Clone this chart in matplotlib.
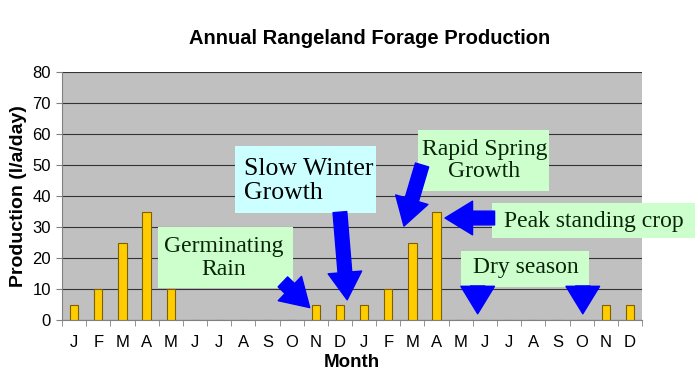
import matplotlib
matplotlib.use("Agg")
import matplotlib.pyplot as plt
import numpy as np

months = ["J", "F", "M", "A", "M", "J", "J", "A", "S", "O", "N", "D",
          "J", "F", "M", "A", "M", "J", "J", "A", "S", "O", "N", "D"]
production = [5, 10, 25, 35, 10, 0, 0, 0, 0, 0, 5, 5,
              5, 10, 25, 35, 0, 0, 0, 0, 0, 0, 5, 5]
y_ticks = [0, 10, 20, 30, 40, 50, 60, 70, 80]

plt.rcParams['font.family'] = ['Liberation Sans', 'DejaVu Sans']

fig = plt.figure(figsize=(7, 3.88), dpi=100)
ax = fig.add_axes([62/700, 1-320/388, 580/700, 248/388])
ax.set_facecolor('#C0C0C0')
x = np.arange(len(months))
ax.bar(x, production, width=0.34, color='#FFCC00', edgecolor='#7F6000', linewidth=0.8, zorder=3)
ax.set_xlim(-0.5, len(months) - 0.5)
ax.set_ylim(0, 80)
ax.set_yticks(y_ticks)
ax.set_yticklabels([str(v) for v in y_ticks], fontsize=12)
ax.yaxis.grid(True, color='#333333', linewidth=0.8, zorder=1)
ax.set_xticks(x)
ax.set_xticklabels(months, fontsize=12)
ax.tick_params(axis='x', which='major', length=0, pad=11)
ax.set_xticks(np.arange(-0.5, len(months), 1), minor=True)
ax.tick_params(axis='x', which='minor', length=4, color='#808080')
ax.tick_params(axis='y', length=4, color='#808080', pad=4)
for s in ['top', 'right']:
    ax.spines[s].set_visible(False)
ax.spines['left'].set_color('#808080')
ax.spines['bottom'].set_color('#808080')
ax.set_xlabel('Month', fontsize=13.5, fontweight='bold', labelpad=3)
ax.set_ylabel('Production (l/a/day)', fontsize=14, fontweight='bold', labelpad=4)

fig.text(370/700, 1-38/388, 'Annual Rangeland Forage Production', ha='center', va='center',
         fontsize=14.5, fontweight='bold')

serif = ['Liberation Serif', 'DejaVu Serif']
green = '#CCFFCC'
cyan = '#CCFFFF'
dark = '#0A240A'

def arrow(x0, y0, x1, y1):
    ax.annotate('', xy=(x1, y1), xytext=(x0, y0), xycoords='data', textcoords='data',
                arrowprops=dict(arrowstyle='simple,head_length=0.9,head_width=1.1,tail_width=0.45',
                                fc='#0000FF', ec='#0000FF', mutation_scale=22, shrinkA=0, shrinkB=0),
                zorder=6, annotation_clip=False)

def box(x0, x1, y0, y1, color):
    ax.add_patch(plt.Rectangle((x0, y0), x1 - x0, y1 - y0, facecolor=color, edgecolor='none',
                               zorder=5, clip_on=False))

# Germinating Rain
box(3.47, 9.06, 10.3, 30.0, green)
ax.text(6.18, 20.0, 'Germinating\nRain', ha='center', va='center', fontsize=17,
        family=serif, color=dark, zorder=7, linespacing=1.1)
arrow(8.64, 12.3, 9.75, 4.0)

# Slow Winter Growth
box(6.66, 12.5, 34.5, 56.1, cyan)
ax.text(7.05, 44.8, 'Slow Winter\nGrowth', ha='left', va='center', fontsize=18.5,
        family=serif, color='#000000', zorder=7, linespacing=1.1)
arrow(11.0, 34.8, 11.3, 6.5)

# Rapid Spring Growth
box(14.23, 19.65, 41.6, 61.3, green)
ax.text(16.98, 51.5, 'Rapid Spring\nGrowth', ha='center', va='center', fontsize=17,
        family=serif, color=dark, zorder=7, linespacing=1.05)
arrow(14.4, 50.0, 13.65, 30.3)

# Peak standing crop
box(17.3, 25.7, 26.5, 37.7, green)
ax.text(21.5, 31.8, 'Peak standing crop', ha='center', va='center', fontsize=17,
        family=serif, color=dark, zorder=7, clip_on=False)
arrow(17.4, 32.9, 15.35, 32.9)

# Dry season
box(16.0, 21.3, 10.6, 22.3, green)
ax.text(18.68, 16.8, 'Dry season', ha='center', va='center', fontsize=17,
        family=serif, color=dark, zorder=7)
arrow(16.7, 11.0, 16.7, 2.0)
arrow(21.05, 11.0, 21.05, 2.0)

fig.savefig('out.png', dpi=100)
